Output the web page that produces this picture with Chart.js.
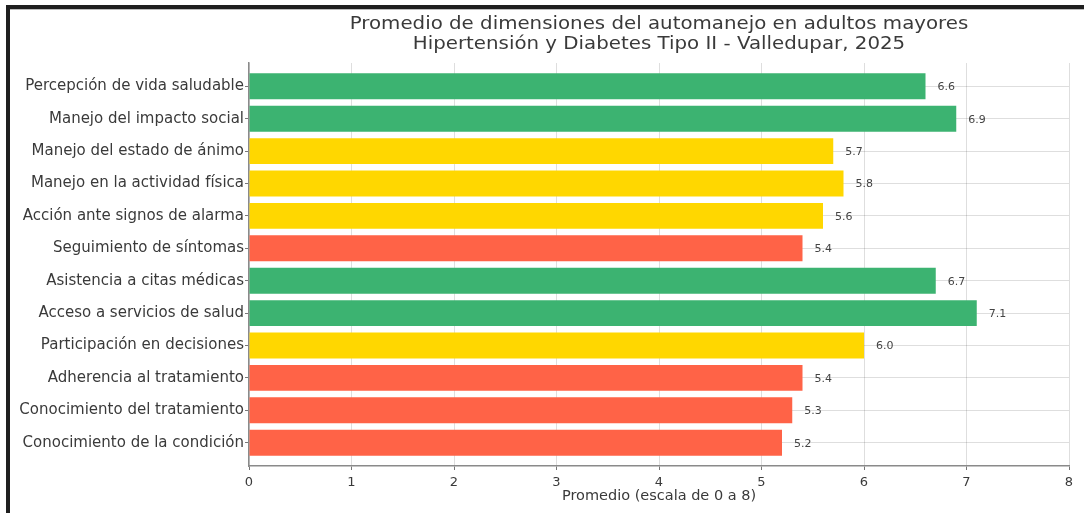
<!DOCTYPE html>
<html>
<head>
<meta charset="utf-8">
<script src="https://cdn.jsdelivr.net/npm/chart.js@4/dist/chart.umd.min.js"></script>
<style>
  html, body { margin: 0; padding: 0; background: #fff; }
  #wrap { position: relative; width: 1084px; height: 513px; overflow: hidden; background: #fff; }
  #chart { position: absolute; left: 0; top: 0; }
  .frame-top { position: absolute; left: 6px; top: 5px; width: 1078px; height: 4px; background: #1f1f1f; border-bottom: 1px solid #bbb; }
  .frame-left { position: absolute; left: 6px; top: 5px; width: 4px; height: 508px; background: #1f1f1f; }
</style>
</head>
<body>
<div id="wrap">
  <canvas id="chart" width="1084" height="513"></canvas>
  <div class="frame-top"></div>
  <div class="frame-left"></div>
</div>
<script>
// Self-management dimensions, listed top to bottom
const categories = [
  'Percepción de vida saludable',
  'Manejo del impacto social',
  'Manejo del estado de ánimo',
  'Manejo en la actividad física',
  'Acción ante signos de alarma',
  'Seguimiento de síntomas',
  'Asistencia a citas médicas',
  'Acceso a servicios de salud',
  'Participación en decisiones',
  'Adherencia al tratamiento',
  'Conocimiento del tratamiento',
  'Conocimiento de la condición'
];

// Mean score per dimension (0–8 scale)
const promedios = [6.6, 6.9, 5.7, 5.8, 5.6, 5.4, 6.7, 7.1, 6.0, 5.4, 5.3, 5.2];

// Value-axis ticks
const xTicks = [0, 1, 2, 3, 4, 5, 6, 7, 8];

const titleLines = [
  'Promedio de dimensiones del automanejo en adultos mayores',
  'Hipertensión y Diabetes Tipo II - Valledupar, 2025'
];
const xTitle = 'Promedio (escala de 0 a 8)';

// Traffic-light colouring by score band
function colorFor(v) {
  if (v >= 6.5) return '#3cb371';
  if (v >= 5.5) return '#ffd700';
  return '#ff6347';
}

const FONT = "'DejaVu Sans', sans-serif";
const TEXT = '#3a3a3a';

const points = categories.map((c, i) => ({ x: promedios[i], y: i }));

const decorations = {
  id: 'decorations',
  afterDatasetsDraw(chart) {
    const ctx = chart.ctx;
    const meta = chart.getDatasetMeta(0);
    ctx.save();
    ctx.font = '11px ' + FONT;
    ctx.fillStyle = '#444';
    ctx.textAlign = 'left';
    ctx.textBaseline = 'middle';
    meta.data.forEach((bar, i) => {
      ctx.fillText(promedios[i].toFixed(1), bar.x + 12, bar.y + 1);
    });
    ctx.restore();
  },
  afterDraw(chart) {
    // Two-line heading, slightly widened, centred over the plot area
    const ctx = chart.ctx;
    const area = chart.chartArea;
    const cx = (area.left + area.right) / 2;
    const widen = 1.1;
    ctx.save();
    ctx.font = '18px ' + FONT;
    ctx.fillStyle = TEXT;
    ctx.textAlign = 'center';
    ctx.textBaseline = 'middle';
    ctx.translate(cx, 0);
    ctx.scale(widen, 1);
    ctx.fillText(titleLines[0], 0, 24);
    ctx.fillText(titleLines[1], 0, 44);
    ctx.restore();
  }
};

const gridStyle = {
  color: 'rgba(0,0,0,0.13)',
  lineWidth: 1,
  borderDash: [3, 3],
  drawTicks: true,
  tickLength: 4,
  tickColor: '#777',
  tickBorderDash: [],
  tickWidth: 1,
  offset: false
};

new Chart(document.getElementById('chart'), {
  type: 'bar',
  data: {
    datasets: [{
      data: points,
      backgroundColor: promedios.map(colorFor),
      borderWidth: 0,
      categoryPercentage: 1,
      barPercentage: 0.8
    }]
  },
  options: {
    indexAxis: 'y',
    responsive: false,
    animation: false,
    events: [],
    layout: { padding: { top: 63, right: 15, left: 0, bottom: 0 } },
    plugins: {
      legend: { display: false },
      tooltip: { enabled: false },
      title: { display: false }
    },
    scales: {
      x: {
        type: 'linear',
        min: 0,
        max: 8,
        afterBuildTicks(axis) { axis.ticks = xTicks.map(v => ({ value: v })); },
        afterFit(axis) { axis.height = 47; },
        grid: gridStyle,
        border: { display: true, color: '#8a8a8a', width: 1.5 },
        ticks: {
          color: TEXT,
          font: { family: FONT, size: 13 },
          padding: 5,
          maxRotation: 0
        },
        title: {
          display: true,
          text: xTitle,
          color: TEXT,
          font: { family: FONT, size: 14.5 },
          padding: { top: 0, bottom: 8 }
        }
      },
      y: {
        type: 'linear',
        reverse: true,
        offset: false,
        min: -0.72,
        max: categories.length - 1 + 0.72,
        afterBuildTicks(axis) { axis.ticks = categories.map((c, i) => ({ value: i })); },
        afterFit(axis) { axis.width = 249; },
        grid: gridStyle,
        border: { display: true, color: '#8a8a8a', width: 1.5 },
        ticks: {
          color: TEXT,
          font: { family: FONT, size: 15 },
          padding: 1,
          autoSkip: false,
          callback: (v) => categories[v]
        }
      }
    }
  },
  plugins: [decorations]
});
</script>
</body>
</html>
